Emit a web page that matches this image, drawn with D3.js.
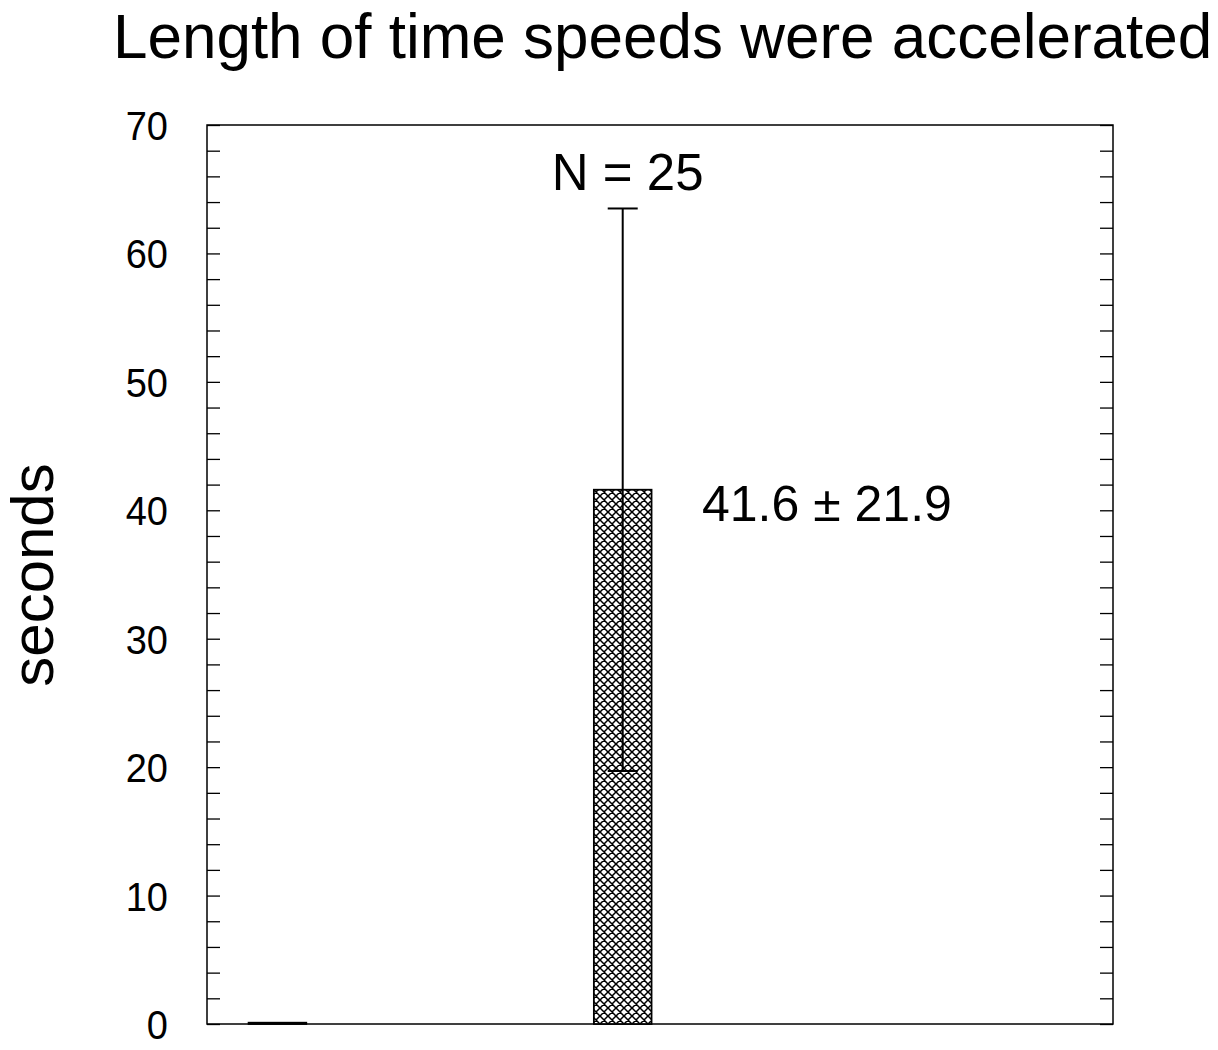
<!DOCTYPE html>
<html><head><meta charset="utf-8">
<script src="https://cdn.jsdelivr.net/npm/d3@7"></script>
<style>body{margin:0;background:#fff}svg{display:block}text{font-family:"Liberation Sans",Arial,Helvetica,sans-serif;fill:#000}</style>
</head><body>
<svg id="c" width="1218" height="1050"></svg>
<script>
const title = "Length of time speeds were accelerated";
const yLabel = "seconds";
const positions = [1, 2];
const means = [0.1, 41.6];
const sds = [0, 21.9];
const nLabel = "N = 25";
const valueLabel = "41.6 ± 21.9";
const yTicks = [0, 10, 20, 30, 40, 50, 60, 70];

const svg = d3.select("#c");
const L = 207, R = 1113, T = 125, B = 1024;
const x = d3.scaleLinear().domain([0.796, 3.42]).range([L, R]);
const y = d3.scaleLinear().domain([0, 70]).range([B, T]);

const defs = svg.append("defs");
const P = 8;
const pat = defs.append("pattern").attr("id","hatch").attr("patternUnits","userSpaceOnUse")
  .attr("width",P).attr("height",P);
pat.append("rect").attr("width",P).attr("height",P).attr("fill","#fff");
pat.append("path").attr("d",`M0,0L${P},${P}M${P},0L0,${P}M-1,${P-1}L1,${P+1}M${P-1},-1L${P+1},1M-1,1L1,-1M${P-1},${P+1}L${P+1},${P-1}`)
  .attr("stroke","#000").attr("stroke-width",1.5);

svg.append("text").attr("transform","translate(113,58) scale(1,1.03)").attr("font-size",62).text(title);

// frame
svg.append("rect").attr("x",L).attr("y",T).attr("width",R-L).attr("height",B-T)
  .attr("fill","none").attr("stroke","#000").attr("stroke-width",1.5);

// ticks left & right
const minor = d3.range(0, 70.001, 2);
const tl = 13;
const axL = d3.axisLeft(y).tickValues(minor).tickSize(-tl).tickFormat("");
const axR = d3.axisRight(y).tickValues(minor).tickSize(-tl).tickFormat("");
svg.append("g").attr("transform",`translate(${L},0)`).call(axL)
  .call(g=>g.select(".domain").remove()).selectAll("line").attr("stroke-width",1.3);
svg.append("g").attr("transform",`translate(${R},0)`).call(axR)
  .call(g=>g.select(".domain").remove()).selectAll("line").attr("stroke-width",1.3);

svg.append("g").selectAll("text").data(yTicks).join("text")
  .attr("transform",d=>`translate(168,${y(d)+15}) scale(1,1.08)`).attr("text-anchor","end").attr("font-size",38)
  .text(d=>d);

svg.append("text").attr("transform",`translate(53,575) rotate(-90)`)
  .attr("text-anchor","middle").attr("font-size",60).text(yLabel);

const bw = 0.167;
svg.append("g").selectAll("rect").data(positions).join("rect")
  .attr("x",(d)=>x(d-bw/2)).attr("width",x(bw)-x(0))
  .attr("y",(d,i)=>y(means[i])).attr("height",(d,i)=>y(0)-y(means[i]))
  .attr("fill","url(#hatch)").attr("stroke","#000").attr("stroke-width",1.8);

// error bars
const eb = svg.append("g").attr("stroke","#000").attr("stroke-width",2);
positions.forEach((p,i)=>{
  if(!sds[i]) return;
  const cx = x(p), hw = 15;
  eb.append("line").attr("x1",cx).attr("x2",cx).attr("y1",y(means[i]+sds[i])).attr("y2",y(means[i]-sds[i]));
  eb.append("line").attr("x1",cx-hw).attr("x2",cx+hw).attr("y1",y(means[i]+sds[i])).attr("y2",y(means[i]+sds[i]));
  eb.append("line").attr("x1",cx-hw).attr("x2",cx+hw).attr("y1",y(means[i]-sds[i])).attr("y2",y(means[i]-sds[i]));
});

svg.append("text").attr("x",x(2)+5).attr("y",190).attr("text-anchor","middle").attr("font-size",51).text(nLabel);
svg.append("text").attr("x",702).attr("y",521).attr("font-size",50).text(valueLabel);
</script>
</body></html>
